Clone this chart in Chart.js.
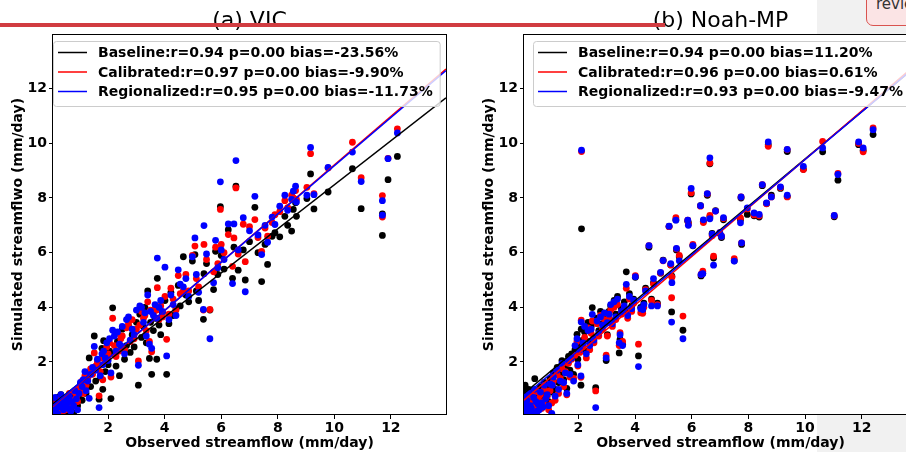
<!DOCTYPE html>
<html>
<head>
<meta charset="utf-8">
<script src="https://cdn.jsdelivr.net/npm/chart.js@4.4.1/dist/chart.umd.min.js"></script>
<style>
  html, body { margin: 0; padding: 0; width: 906px; height: 452px; overflow: hidden; background: #fff; }
  body { position: relative; font-family: "DejaVu Sans", sans-serif; }
  #sidePanel { position: absolute; left: 817px; top: 0; width: 89px; height: 452px; background: #f1f1f1; }
  canvas { position: absolute; top: 0; }
  #vicChart { left: 0; }
  #noahChart { left: 471px; }
  #topBar { position: absolute; left: 0; top: 23px; width: 665px; height: 4px; background: #d13c41; z-index: 5; }
  #reviewTag { position: absolute; left: 866px; top: -14px; width: 70px; height: 40px; box-sizing: border-box;
    border: 1px solid #d9534f; border-radius: 7px; background: #fbe4e5; color: #333;
    font: 15px "DejaVu Sans", sans-serif; line-height: 15px; padding: 10px 0 0 9px; z-index: 6; }
</style>
</head>
<body>
<div id="sidePanel"></div>
<canvas id="vicChart" width="453" height="452"></canvas>
<canvas id="noahChart" width="453" height="452"></canvas>
<div id="topBar"></div>
<div id="reviewTag">revie</div>
<script>
// ---- (a) VIC ----
const vicObserved = [0.08,0.12,0.15,0.18,0.22,0.25,0.30,0.33,0.38,0.42,
  0.45,0.50,0.55,0.60,0.63,0.68,0.72,0.78,0.82,0.88,
  0.92,0.97,1.02,1.08,1.12,1.18,1.22,1.28,1.33,1.38,
  1.45,1.51,1.56,1.62,1.68,1.72,1.78,1.81,1.84,1.90,
  1.95,2.00,2.05,2.10,2.16,2.22,2.28,2.33,2.40,2.45,
  2.50,2.58,2.65,2.72,2.78,2.85,2.92,3.00,3.07,3.12,
  3.18,3.25,3.30,3.35,3.40,3.46,3.50,3.54,3.60,3.66,
  3.72,3.74,3.80,3.86,3.92,4.01,4.07,4.15,4.22,4.30,
  4.40,4.48,4.55,4.66,4.75,4.85,4.98,5.07,5.12,5.20,
  5.37,5.39,5.48,5.60,5.73,5.80,5.88,5.97,6.00,6.10,
  6.25,6.40,6.45,6.52,6.60,6.78,6.85,7.00,7.19,7.30,
  7.43,7.55,7.64,7.80,7.90,8.07,8.25,8.35,8.49,8.55,
  8.63,8.66,9.03,9.16,9.28,9.78,10.64,10.95,11.70,11.70,
  11.90,12.23];
const vicBaseline = [0.20,0.55,0.10,0.35,0.70,0.15,0.45,0.80,0.25,0.55,
  0.10,0.40,0.65,0.20,0.50,0.30,0.75,0.15,0.55,0.95,
  0.40,0.70,1.20,0.60,1.00,1.35,0.85,1.50,2.15,1.10,
  1.70,2.95,1.30,1.75,0.64,1.45,2.50,1.00,2.78,1.65,
  2.20,1.90,2.40,0.66,3.98,2.30,1.85,2.75,1.50,2.55,
  3.20,2.10,2.60,3.30,2.35,3.00,2.55,3.45,1.15,3.75,
  2.90,3.30,4.00,2.70,4.60,2.13,3.45,1.55,3.15,3.60,
  2.10,5.06,3.35,3.00,3.80,4.25,1.55,3.40,4.55,3.70,
  3.95,4.80,4.05,5.85,4.45,4.20,5.69,5.93,4.60,4.25,
  3.56,5.23,5.60,3.90,4.65,6.05,5.20,7.68,5.90,5.40,
  6.84,5.06,6.20,8.43,5.36,6.10,5.00,6.40,7.66,6.00,
  4.94,6.30,5.57,6.60,6.73,6.58,7.33,7.00,6.79,7.58,
  7.83,7.33,7.98,8.88,7.60,8.22,9.07,7.61,6.63,7.42,
  8.67,9.52];
const vicCalibrated = [0.15,0.40,0.30,0.55,0.20,0.45,0.65,0.35,0.15,0.60,
  0.40,0.25,0.70,0.50,0.85,0.35,0.60,0.45,0.90,0.75,
  0.55,1.05,1.00,1.30,0.85,1.50,1.15,1.40,1.60,1.75,
  1.55,2.33,1.85,2.00,0.76,1.65,2.15,1.35,2.25,2.05,
  2.55,2.30,2.70,1.45,3.60,2.60,2.20,3.05,2.40,2.85,
  2.95,2.45,3.25,3.40,2.75,3.55,2.85,3.20,2.04,3.35,
  3.85,3.60,3.70,3.15,4.20,2.75,3.90,2.37,3.80,3.95,
  3.90,4.72,3.55,4.05,3.65,4.40,2.83,3.75,4.70,4.30,
  3.90,5.16,4.50,4.60,5.20,4.60,5.90,6.24,5.05,4.75,
  3.90,6.30,5.75,3.92,5.30,6.20,5.60,7.58,6.30,6.00,
  6.66,5.50,6.54,8.37,5.95,7.04,5.67,6.95,7.21,6.55,
  6.05,6.90,6.60,7.10,7.39,7.50,7.90,7.65,8.10,8.00,
  8.27,7.95,8.39,9.62,8.16,9.10,10.04,8.74,7.30,8.09,
  9.45,10.53];
const vicRegionalized = [0.30,0.70,0.20,0.45,0.10,0.55,0.35,0.80,0.60,0.25,
  0.45,0.65,0.50,0.30,0.75,0.20,0.55,0.40,0.95,0.65,
  0.25,0.85,1.25,1.10,1.35,1.65,0.95,1.30,0.67,1.55,
  1.80,2.57,1.70,2.10,0.33,1.50,2.30,1.90,2.40,2.15,
  2.70,2.05,2.85,1.60,3.16,2.95,2.40,3.10,2.65,2.60,
  3.30,2.30,3.55,3.65,2.80,3.20,3.00,3.90,1.88,4.05,
  4.00,3.45,3.80,2.95,4.45,2.65,3.85,2.50,3.70,4.10,
  3.60,5.80,4.00,4.25,3.85,5.47,2.22,3.55,4.45,4.10,
  3.70,5.37,4.85,4.75,5.05,4.40,5.85,6.54,5.20,4.55,
  3.92,6.99,5.95,2.85,4.90,6.45,5.45,8.59,6.10,5.75,
  7.05,4.87,7.05,9.37,6.10,7.28,4.57,6.80,8.06,6.65,
  5.93,7.00,6.38,7.30,7.03,7.70,8.10,7.55,7.95,8.25,
  8.43,7.85,8.10,9.85,8.12,9.12,9.68,8.60,7.37,7.90,
  9.44,10.38];
// fitted lines: baseline, calibrated, regionalized
const vicFitSlope = [0.806, 0.888, 0.882];
const vicFitIntercept = [0.425, 0.33, 0.36];
const vicLegend = ['Baseline:r=0.94 p=0.00 bias=-23.56%',
  'Calibrated:r=0.97 p=0.00 bias=-9.90%',
  'Regionalized:r=0.95 p=0.00 bias=-11.73%'];

// ---- (b) Noah-MP ----
const noahObserved = [0.05,0.06,0.10,0.12,0.15,0.18,0.22,0.25,0.30,0.34,
  0.38,0.42,0.46,0.50,0.55,0.58,0.62,0.66,0.70,0.75,
  0.80,0.85,0.90,0.95,1.00,1.06,1.08,1.12,1.18,1.25,
  1.30,1.36,1.42,1.48,1.54,1.59,1.65,1.70,1.76,1.83,
  1.88,1.95,1.98,2.05,2.09,2.10,2.11,2.16,2.22,2.28,
  2.34,2.40,2.45,2.49,2.55,2.61,2.66,2.72,2.78,2.85,
  2.92,2.98,3.02,3.08,3.14,3.20,3.26,3.32,3.38,3.44,
  3.47,3.52,3.56,3.62,3.69,3.74,3.80,3.88,3.95,4.01,
  4.12,4.20,4.27,4.31,4.37,4.49,4.58,4.65,4.79,4.90,
  4.99,5.20,5.26,5.29,5.30,5.44,5.46,5.56,5.69,5.86,
  5.88,5.98,6.04,6.31,6.33,6.39,6.41,6.55,6.64,6.64,
  6.72,6.77,6.84,6.99,7.05,7.12,7.50,7.72,7.74,7.76,
  7.96,8.20,8.38,8.49,8.64,8.70,8.81,9.13,9.37,9.37,
  9.94,10.62,11.03,11.16,11.89,12.05,12.40];
const noahBaseline = [3.70,1.05,0.80,1.15,0.45,0.90,0.60,1.00,0.40,0.75,
  0.55,0.95,1.39,0.50,0.70,0.85,0.35,1.10,0.60,0.90,
  1.25,0.70,1.05,0.55,1.40,0.90,1.30,1.60,1.00,1.80,
  1.25,1.55,2.05,1.35,1.85,1.03,2.20,1.70,2.30,1.55,
  2.45,3.01,2.10,2.60,1.15,3.20,6.87,2.80,3.10,2.40,
  3.45,2.75,3.30,3.99,2.90,1.06,3.60,3.15,3.85,3.40,
  3.70,2.05,3.00,3.85,4.05,3.50,4.25,3.75,4.40,2.33,
  2.83,3.95,2.65,4.20,5.30,3.80,4.50,4.05,4.30,5.10,
  2.22,4.00,3.90,4.15,4.70,6.20,4.30,4.90,4.15,5.25,
  5.73,6.96,5.55,3.83,5.14,7.20,6.10,5.85,3.16,7.15,
  7.09,8.15,6.25,7.72,5.15,5.25,7.15,8.10,9.25,7.30,
  6.70,5.80,7.54,6.70,6.55,7.20,5.70,7.20,8.00,6.30,
  7.40,7.35,7.30,8.45,7.80,9.95,8.10,8.35,9.70,8.05,
  9.05,9.69,7.31,8.65,9.95,9.75,10.32];
const noahCalibrated = [3.72,0.55,0.20,0.70,0.10,0.40,0.30,0.75,0.15,0.50,
  0.25,0.60,0.90,0.35,0.20,0.65,0.45,0.80,0.30,0.55,
  1.00,0.40,0.75,0.25,0.95,0.50,1.18,1.30,0.60,1.55,
  0.85,1.40,1.75,1.10,1.65,0.80,1.95,1.45,2.10,1.40,
  2.25,2.75,1.85,2.35,1.44,3.53,9.70,2.55,2.90,2.15,
  3.25,2.45,3.05,3.50,2.70,0.94,3.40,2.95,3.70,3.20,
  3.55,2.25,2.95,3.60,3.90,3.30,4.00,3.55,4.10,2.60,
  3.07,3.75,2.75,3.95,4.70,3.60,4.30,3.85,4.15,5.16,
  2.65,3.80,3.78,4.00,4.65,6.26,4.25,4.85,4.10,5.26,
  5.70,6.95,5.55,4.35,5.10,7.28,6.14,5.90,3.68,7.19,
  7.05,8.19,6.30,7.70,5.20,5.32,7.10,8.15,9.28,7.36,
  6.62,5.87,7.52,6.73,6.60,7.25,5.78,7.27,8.04,6.36,
  7.60,7.38,7.35,8.49,7.79,9.89,8.04,8.38,9.77,8.04,
  9.04,10.07,7.35,8.90,10.00,9.69,10.56];
const noahRegionalized = [3.74,0.75,0.35,0.50,0.15,0.60,0.20,0.85,0.40,0.30,
  0.10,0.70,1.00,0.55,0.20,0.45,0.25,0.90,0.50,0.35,
  1.15,0.65,0.80,0.40,1.20,0.12,1.15,1.45,0.75,1.70,
  1.00,1.30,1.95,1.25,1.60,0.85,2.05,1.55,2.15,1.30,
  2.60,2.85,1.90,2.45,1.49,3.46,9.75,2.70,3.30,2.30,
  3.15,2.60,3.20,3.74,2.80,0.33,3.50,3.05,3.65,3.35,
  3.80,2.15,3.44,3.75,4.10,3.40,4.20,3.65,4.30,2.70,
  3.00,3.85,2.60,4.05,4.84,3.70,4.40,3.95,4.25,5.12,
  1.83,3.95,3.92,4.10,4.60,6.26,4.05,5.05,4.05,5.28,
  5.71,6.97,5.60,3.46,4.90,7.19,6.16,5.70,2.85,7.19,
  7.00,8.35,6.26,7.72,5.20,5.23,7.20,8.16,9.47,7.24,
  6.68,5.54,7.52,6.73,6.60,7.28,5.69,7.09,8.04,6.36,
  7.64,7.45,7.40,8.49,7.82,10.05,8.04,8.41,9.78,8.10,
  9.16,9.83,7.36,8.86,10.05,9.83,10.50];
const noahFitSlope = [0.865, 0.888, 0.873];
const noahFitIntercept = [0.78, 0.53, 0.68];
const noahLegend = ['Baseline:r=0.94 p=0.00 bias=11.20%',
  'Calibrated:r=0.96 p=0.00 bias=0.61%',
  'Regionalized:r=0.93 p=0.00 bias=-9.47%'];

// axes
const vicXRange = [0.05, 13.95];
const noahXRange = [0.08, 13.95];
const yRange = [0.06, 14.0];
const axisTicks = [2, 4, 6, 8, 10, 12];

const seriesColors = ['#000000', '#ff0000', '#0000ff'];
const fontFamily = '"DejaVu Sans", sans-serif';

const toPoints = (xs, ys) => xs.map((x, i) => ({ x: x, y: ys[i] }));

// white axes face + frame
const axesFrame = {
  id: 'axesFrame',
  beforeDraw(chart) {
    const { ctx, chartArea: a } = chart;
    ctx.save();
    ctx.fillStyle = '#fff';
    ctx.fillRect(a.left, a.top, a.right - a.left, a.bottom - a.top);
    ctx.restore();
  },
  afterDraw(chart) {
    const { ctx, chartArea: a } = chart;
    ctx.save();
    ctx.strokeStyle = '#000';
    ctx.lineWidth = 1;
    ctx.strokeRect(Math.round(a.left) - 0.5, Math.round(a.top) + 0.5,
      Math.round(a.right - a.left) + 1, Math.round(a.bottom - a.top) - 1);
    ctx.restore();
  }
};

// matplotlib-like legend box drawn over the data
const lineLegend = {
  id: 'lineLegend',
  afterDatasetsDraw(chart, args, opts) {
    const { ctx, chartArea: a } = chart;
    const items = chart.data.datasets.filter(d => d.fitLine);
    ctx.save();
    ctx.font = 'bold 14px ' + fontFamily;
    const textW = Math.max(...items.map(d => ctx.measureText(d.label).width));
    const hx = a.left + opts.handleOffset;
    const bx = hx - 5, by = a.top + 7;
    const bw = 45 + textW + 7, bh = 65;
    ctx.beginPath();
    ctx.roundRect(bx + 0.5, by + 0.5, bw, bh, 3);
    ctx.fillStyle = 'rgba(255,255,255,0.8)';
    ctx.fill();
    ctx.strokeStyle = '#cccccc';
    ctx.lineWidth = 1;
    ctx.stroke();
    items.forEach((d, i) => {
      const y = by + 11.5 + i * 19.5;
      ctx.beginPath();
      ctx.moveTo(hx, y);
      ctx.lineTo(hx + 29, y);
      ctx.strokeStyle = d.borderColor;
      ctx.lineWidth = 1.5;
      ctx.stroke();
      ctx.fillStyle = '#000';
      ctx.textBaseline = 'middle';
      ctx.fillText(d.label, hx + 40, y + 1);
    });
    ctx.restore();
  }
};

function makeChart(id, cfg) {
  const names = ['Baseline', 'Calibrated', 'Regionalized'];
  const sims = cfg.sims;
  const fits = names.map((n, i) => ({
    label: cfg.legend[i],
    fitLine: true,
    data: cfg.xRange.map(x => ({ x: x, y: cfg.intercept[i] + cfg.slope[i] * x })),
    showLine: true,
    borderColor: seriesColors[i],
    borderWidth: 1.5,
    pointRadius: 0,
    order: 2 - i
  }));
  const dots = names.map((n, i) => ({
    label: n,
    data: toPoints(cfg.observed, sims[i]),
    backgroundColor: seriesColors[i],
    borderWidth: 0,
    pointRadius: 3.4,
    pointHoverRadius: 3.4,
    order: 5 - i
  }));
  const tickFont = { family: fontFamily, size: 14, weight: 'bold' };
  return new Chart(document.getElementById(id).getContext('2d'), {
    type: 'scatter',
    data: { datasets: fits.concat(dots) },
    options: {
      responsive: false,
      animation: false,
      events: [],
      layout: { padding: { left: 0, right: 7, top: 0, bottom: 0 } },
      scales: {
        x: {
          type: 'linear', min: cfg.xRange[0], max: cfg.xRange[1],
          afterBuildTicks: s => { s.ticks = axisTicks.map(v => ({ value: v })); },
          afterFit: s => { s.height = 37; },
          grid: { drawOnChartArea: false, drawTicks: true, tickLength: 4, color: '#000' },
          border: { display: false },
          ticks: { color: '#000', font: tickFont, padding: 1, maxRotation: 0 },
          title: { display: true, text: 'Observed streamflow (mm/day)', color: '#000',
            font: tickFont, padding: { top: 0, bottom: 0 } }
        },
        y: {
          type: 'linear', min: yRange[0], max: yRange[1],
          afterBuildTicks: s => { s.ticks = axisTicks.map(v => ({ value: v })); },
          afterFit: s => { s.width = 53; },
          grid: { drawOnChartArea: false, drawTicks: true, tickLength: 4, color: '#000' },
          border: { display: false },
          ticks: { color: '#000', font: tickFont, padding: 2 },
          title: { display: true, text: 'Simulated streamflwo (mm/day)', color: '#000',
            font: tickFont, padding: { top: 10, bottom: 0 } }
        }
      },
      plugins: {
        legend: { display: false },
        tooltip: { enabled: false },
        title: {
          display: true, text: cfg.title, color: '#000', fullSize: false,
          font: { family: fontFamily, size: 22, weight: 'normal', lineHeight: 1 },
          padding: { top: 10, bottom: 2 }
        },
        lineLegend: { handleOffset: cfg.handleOffset }
      }
    },
    plugins: [axesFrame, lineLegend]
  });
}

makeChart('vicChart', {
  title: '(a) VIC',
  observed: vicObserved,
  sims: [vicBaseline, vicCalibrated, vicRegionalized],
  slope: vicFitSlope, intercept: vicFitIntercept,
  legend: vicLegend, xRange: vicXRange, handleOffset: 5
});
makeChart('noahChart', {
  title: '(b) Noah-MP',
  observed: noahObserved,
  sims: [noahBaseline, noahCalibrated, noahRegionalized],
  slope: noahFitSlope, intercept: noahFitIntercept,
  legend: noahLegend, xRange: noahXRange, handleOffset: 14
});
</script>
</body>
</html>
